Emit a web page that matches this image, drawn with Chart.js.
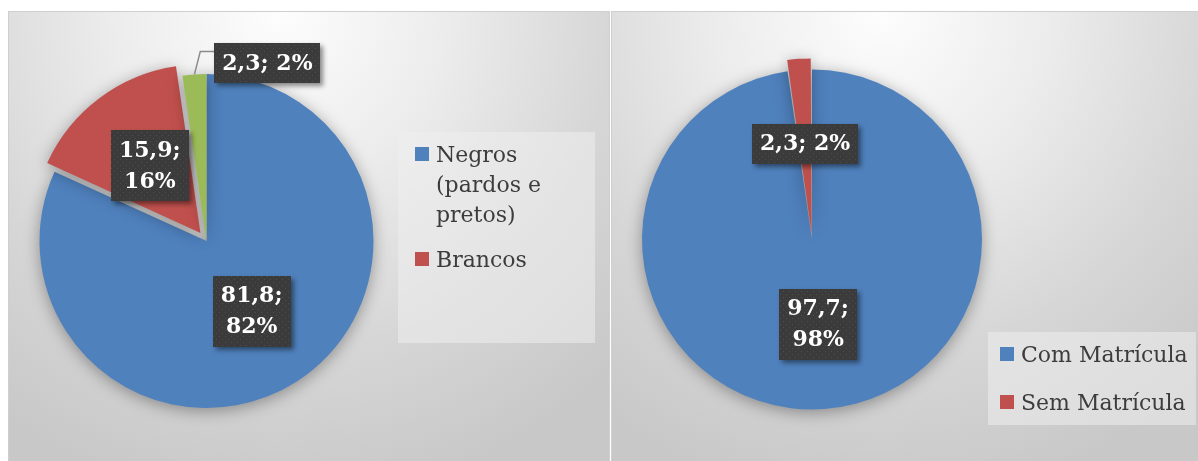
<!DOCTYPE html>
<html lang="pt">
<head>
  <meta charset="UTF-8" />
  <title>Gráficos de pizza</title>
  <script src="https://cdn.jsdelivr.net/npm/chart.js"></script>
  <style>
    body { margin: 0; background: #fff; width: 1198px; height: 461px; overflow: hidden; position: relative; }
    .panel {
      position: absolute; top: 11px; height: 470px; box-sizing: border-box;
      border: 1px solid #cfcfcf;
      background: radial-gradient(ellipse 80% 105% at 45% 0%, #fdfdfd 0%, #ececec 35%, #d6d6d6 70%, #c8c8c8 100%);
    }
    #p1 { left: 8px; width: 602px; }
    #p2 { left: 611px; width: 600px; }
    canvas { position: absolute; top: 11px; }
    #c1 { left: 8px; }
    #c2 { left: 611px; }
    .legend {
      position: absolute; box-sizing: border-box;
      background: rgba(238, 238, 238, 0.55);
      font-family: "DejaVu Serif", serif; font-size: 22px; line-height: 30px; color: #3c3c3c;
    }
    #leg1 { left: 398px; top: 132px; width: 197px; height: 211px; padding: 8px 0 0 17px; }
    #leg2 { left: 988px; top: 332px; width: 208px; height: 93px; padding: 8px 0 0 12px; }
    .item { display: flex; align-items: flex-start; }
    .item .sw { width: 14px; height: 14px; margin: 7px 7px 0 0; flex: none; }
    #leg1 .item { margin-bottom: 15px; }
    #leg1 .item span { width: 125px; }
    #leg2 .item { margin-bottom: 18px; white-space: nowrap; }
  </style>
</head>
<body>
<div class="panel" id="p1"></div>
<div class="panel" id="p2"></div>
<canvas id="c1" width="602" height="470"></canvas>
<canvas id="c2" width="600" height="470"></canvas>
<div class="legend" id="leg1"></div>
<div class="legend" id="leg2"></div>
<script>
  // chart 1: raça/cor
  const racaLabels = ["Negros (pardos e pretos)", "Brancos", "Outros"];
  const racaValues = [81.8, 15.9, 2.3];
  // chart 2: matrícula
  const matLabels = ["Com Matrícula", "Sem Matrícula"];
  const matValues = [97.7, 2.3];

  const colors = ["#4f81bd", "#c0504d", "#9bbb59"];

  // dotted dark fill used by the data label boxes
  const dots = document.createElement("canvas");
  dots.width = 6; dots.height = 6;
  const dctx = dots.getContext("2d");
  dctx.fillStyle = "#3b3b3b"; dctx.fillRect(0, 0, 6, 6);
  dctx.fillStyle = "#4d4d4d"; dctx.fillRect(1, 1, 1, 1); dctx.fillRect(4, 4, 1, 1);

  function fmt(v) { return String(v).replace(".", ","); }

  const shadowPlugin = {
    id: "pieShadow",
    beforeDatasetsDraw(chart) {
      const ctx = chart.ctx;
      ctx.save();
      ctx.shadowColor = "rgba(0,0,0,0.35)";
      ctx.shadowBlur = 16;
      ctx.shadowOffsetY = 3;
    },
    afterDatasetsDraw(chart) { chart.ctx.restore(); }
  };

  const boxLabels = {
    id: "boxLabels",
    afterDatasetsDraw(chart, args, opts) {
      const ctx = chart.ctx;
      const values = chart.data.datasets[0].data;
      const total = values.reduce((a, b) => a + b, 0);
      const pattern = ctx.createPattern(dots, "repeat");
      chart.getDatasetMeta(0).data.forEach((arc, i) => {
        const v = values[i];
        const pct = Math.round(v / total * 100) + "%";
        const lines = opts.wrap[i] ? [fmt(v) + ";", pct] : [fmt(v) + "; " + pct];
        const mid = (arc.startAngle + arc.endAngle) / 2;
        const r = arc.outerRadius;
        ctx.save();
        ctx.font = "bold 22px 'DejaVu Serif'";
        const lh = 31;
        const w = Math.max(...lines.map(t => ctx.measureText(t).width)) + 16;
        const h = lines.length * lh + 9;
        let cx, cy;
        const out = opts.outside[i];
        if (out) {
          const ax = arc.x + Math.cos(mid) * r, ay = arc.y + Math.sin(mid) * r;
          cx = ax + out.dx; cy = ay + out.dy;
          const left = cx - w / 2, top = cy - h / 2;
          ctx.strokeStyle = "#8a8a8a"; ctx.lineWidth = 1.5;
          ctx.beginPath();
          ctx.moveTo(ax, ay);
          ctx.lineTo(left - 14, top + 8);
          ctx.lineTo(left, top + 8);
          ctx.stroke();
        } else {
          const d = r * opts.dist[i];
          cx = arc.x + Math.cos(mid) * d; cy = arc.y + Math.sin(mid) * d;
        }
        ctx.shadowColor = "rgba(0,0,0,0.45)";
        ctx.shadowBlur = 5; ctx.shadowOffsetX = 3; ctx.shadowOffsetY = 3;
        ctx.fillStyle = pattern;
        ctx.fillRect(Math.round(cx - w / 2), Math.round(cy - h / 2), Math.round(w), h);
        ctx.shadowColor = "transparent";
        ctx.fillStyle = "#fff";
        ctx.textAlign = "center"; ctx.textBaseline = "middle";
        lines.forEach((t, k) => ctx.fillText(t, cx, cy - (lines.length - 1) * lh / 2 + k * lh + 1));
        ctx.restore();
      });
    }
  };

  function makePie(id, labels, values, radius, offsets, padding, labelOpts) {
    return new Chart(document.getElementById(id), {
      type: "pie",
      data: {
        labels,
        datasets: [{
          data: values,
          backgroundColor: colors.slice(0, values.length),
          borderWidth: 0,
          offset: offsets
        }]
      },
      options: {
        responsive: false,
        animation: false,
        radius,
        layout: { padding },
        plugins: {
          legend: { display: false },
          tooltip: { enabled: false },
          boxLabels: labelOpts
        }
      },
      plugins: [shadowPlugin, boxLabels]
    });
  }

  makePie("c1", racaLabels, racaValues, 167, [0, 40, 0],
    { left: 0, right: 205, top: 0, bottom: 10 },
    { wrap: [true, true, false], dist: [0.5, 0.565, 0], outside: [null, null, { dx: 73, dy: -11 }] });

  makePie("c2", matLabels, matValues, 170, [0, 24],
    { left: 0, right: 198, top: 0, bottom: 13 },
    { wrap: [true, false], dist: [0.5, 0.566], outside: [null, null] });

  // html legends (left one lists the first two categories only, as in the source)
  function buildLegend(elId, labels, count) {
    const el = document.getElementById(elId);
    labels.slice(0, count).forEach((lab, i) => {
      const item = document.createElement("div");
      item.className = "item";
      item.innerHTML = `<div class="sw" style="background:${colors[i]}"></div><span>${lab}</span>`;
      el.appendChild(item);
    });
  }
  buildLegend("leg1", racaLabels, 2);
  buildLegend("leg2", matLabels, 2);
</script>
</body>
</html>
